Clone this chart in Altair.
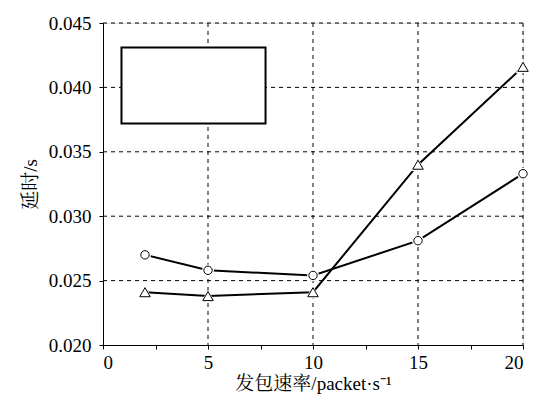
import altair as alt
import pandas as pd

rate = [2, 5, 10, 15, 20]
delay_circle = [0.0270, 0.0258, 0.0254, 0.0281, 0.0333]
delay_triangle = [0.0241, 0.0238, 0.0241, 0.0340, 0.0416]

x_grid = [5, 10, 15, 20]
y_grid = [0.025, 0.030, 0.035, 0.040, 0.045]
x_ticks = [0, 2.5, 5, 7.5, 10, 12.5, 15, 17.5, 20]
y_ticks = [0.020, 0.0225, 0.025, 0.0275, 0.030, 0.0325, 0.035, 0.0375, 0.040, 0.0425, 0.045]

legend_box = {"x1": 0.88, "x2": 7.74, "y1": 0.0372, "y2": 0.0431}

FONT = "'Liberation Serif', 'Times New Roman', 'Noto Serif CJK SC', 'Noto Sans CJK SC', serif"

df_c = pd.DataFrame({"rate": rate, "delay": delay_circle})
df_t = pd.DataFrame({"rate": rate, "delay": delay_triangle})
df_xg = pd.DataFrame({"x": x_grid})
df_yg = pd.DataFrame({"y": y_grid})
df_box = pd.DataFrame([legend_box])

xs = alt.Scale(domain=[0, 20], nice=False, zero=False)
ys = alt.Scale(domain=[0.020, 0.045], nice=False, zero=False)

x_axis = alt.Axis(
    values=x_ticks,
    labelExpr="datum.value % 5 == 0 ? datum.label : ''",
    format="d",
    grid=False,
    tickSize=4,
    tickColor="black",
    domainColor="black",
    labelColor="black",
    labelFont=FONT,
    labelFontSize=19,
    labelPadding=4,
    titleFont=FONT,
    titleFontSize=19,
    titleFontWeight="normal",
    titleColor="black",
    titlePadding=2,
)
y_axis = alt.Axis(
    values=y_ticks,
    labelExpr="abs(round(datum.value * 200) - datum.value * 200) < 0.01 ? format(datum.value, '.3f') : ''",
    grid=False,
    tickSize=4,
    tickColor="black",
    domainColor="black",
    labelColor="black",
    labelFont=FONT,
    labelFontSize=19,
    labelPadding=8,
    titleFont=FONT,
    titleFontSize=19,
    titleFontWeight="normal",
    titleColor="black",
    titlePadding=8,
)

vgrid = alt.Chart(df_xg).mark_rule(color="black", strokeWidth=1, strokeDash=[4, 4]).encode(
    x=alt.X("x:Q", scale=xs, axis=x_axis, title="发包速率/packet·s⁻¹")
)
hgrid = alt.Chart(df_yg).mark_rule(color="black", strokeWidth=1, strokeDash=[4, 4]).encode(
    y=alt.Y("y:Q", scale=ys, axis=y_axis, title="延时/s")
)

box = alt.Chart(df_box).mark_rect(fill="white", stroke="black", strokeWidth=2).encode(
    x="x1:Q", x2="x2:Q", y="y1:Q", y2="y2:Q"
)


def series(df, shape, size):
    base = alt.Chart(df).encode(x="rate:Q", y="delay:Q")
    line = base.mark_line(color="black", strokeWidth=2)
    gap = base.mark_point(shape=shape, size=size * 2.0, filled=True, color="white", opacity=1)
    pts = base.mark_point(shape=shape, size=size, filled=False, fill="white", fillOpacity=1,
                          stroke="black", strokeWidth=1, opacity=1)
    return line + gap + pts


chart = alt.layer(
    vgrid,
    hgrid,
    box,
    series(df_c, "circle", 70),
    series(df_t, "triangle-up", 110),
).properties(
    width=420,
    height=322,
    padding={"left": 95, "top": 15, "right": 10, "bottom": 62},
    autosize=alt.AutoSizeParams(type="none"),
).configure_view(stroke=None).configure(background="white")

chart.save("out.html", embed_options={"renderer": "svg", "actions": False})
